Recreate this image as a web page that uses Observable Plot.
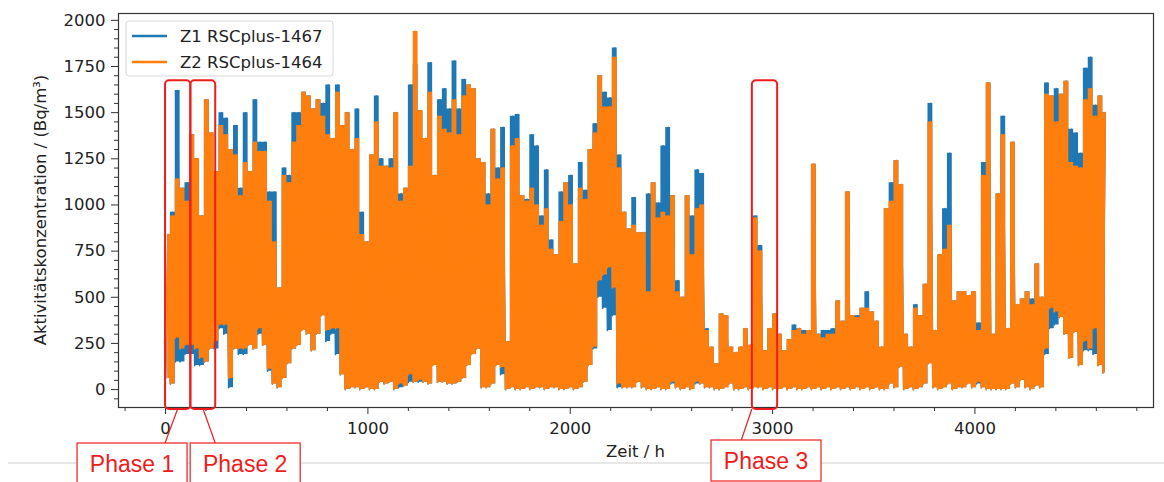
<!DOCTYPE html>
<html><head><meta charset="utf-8">
<script src="https://cdn.jsdelivr.net/npm/d3@7"></script>
<script src="https://cdn.jsdelivr.net/npm/@observablehq/plot@0.6"></script>
<style>
html,body{margin:0;padding:0;background:#fff;}
#chart{position:relative;width:1164px;height:482px;overflow:hidden;background:#fff;}
</style></head><body><div id="chart"></div>
<script>
// Daily maxima / minima (Bq/m³), one value per day (24 h)
const z1Max = [840,960,1620,1090,1120,1380,1250,940,1570,1390,
1180,1500,1470,1300,1430,1090,1500,1180,1570,1340,
1340,1070,1070,550,1200,1160,1500,1500,1610,1590,
1520,1570,1550,1650,1360,1650,1430,1500,1300,1520,
960,800,1270,1590,1250,1210,1250,1500,1060,1090,
1650,1760,1510,1360,1770,1160,1570,1630,1520,1780,
1520,1680,1650,1630,1250,1230,1060,1410,1200,1420,
260,1480,1490,1050,1030,1380,1320,940,1190,810,
730,1070,1120,1160,680,1230,1080,1300,1440,1700,
1610,1580,1850,1270,960,870,1040,850,850,1060,
1120,1010,1320,1420,1050,590,500,1050,940,1190,
1170,330,230,140,410,400,230,200,230,330,
240,940,780,210,330,410,300,210,270,350,
330,320,320,1220,300,320,320,330,480,370,
1070,400,400,440,530,420,370,230,980,1120,
1240,1110,300,230,460,400,570,1550,320,730,
980,1280,480,530,530,510,530,360,1230,1660,
300,1060,1480,330,1340,460,490,530,490,680,
500,1660,1590,1630,1600,1670,1410,1390,1280,1740,
1800,1540,1590,1500];
const z1Min = [60,30,150,150,190,190,130,130,150,220,
220,330,300,10,220,190,190,240,220,300,
240,100,30,10,60,140,220,240,320,300,
210,300,400,260,300,190,80,0,10,10,
0,10,0,0,40,30,40,0,10,20,
40,40,40,40,30,130,40,40,30,30,
40,60,130,190,220,10,10,30,130,80,
0,10,0,0,10,0,10,10,0,10,
10,0,0,10,0,10,40,130,220,500,
440,320,400,10,10,10,10,40,10,0,
0,10,0,0,30,10,0,10,0,30,
30,10,10,0,0,10,30,0,0,10,
0,10,10,0,10,0,0,10,0,10,
0,0,10,0,10,0,10,0,10,0,
10,0,10,0,10,0,10,0,0,30,
10,120,0,10,0,10,30,140,10,0,
10,30,0,10,10,30,10,30,10,0,
0,0,0,0,30,10,50,10,0,20,
10,190,330,350,390,300,170,310,130,210,
210,190,130,90];
const z2Max = [840,940,1140,1090,1020,1380,1250,940,1570,1390,
1180,1430,1380,1300,1270,1050,1230,1180,1340,1290,
1290,1020,800,550,1160,1120,1340,1430,1610,1590,
1520,1570,1480,1380,1360,1610,1430,1500,1300,1360,
840,800,1270,1450,1210,1210,1200,1500,1020,1090,
1210,1940,1510,1360,1610,1160,1480,1410,1390,1570,
1380,1590,1650,1630,1250,1230,1000,1410,1140,1200,
260,1320,1360,1050,1020,1090,1000,890,980,760,
730,910,1120,1000,680,1090,1030,1300,1390,1700,
1530,1530,1800,1200,960,870,890,850,850,530,
1120,930,960,940,1050,530,500,1050,730,980,
1000,320,230,140,410,400,230,200,230,330,
240,930,750,210,330,410,300,210,270,320,
330,300,320,1220,300,280,300,300,480,370,
1070,400,390,440,440,420,370,230,980,1020,
1240,1110,300,230,440,400,570,1450,320,730,
760,890,480,530,530,510,530,320,1160,1660,
300,1060,1380,330,1340,460,490,530,460,680,
500,1600,1590,1450,1600,1670,1230,1210,1200,1570,
1630,1480,1590,1500];
const z2Min = [60,30,280,220,240,240,220,170,150,220,
260,350,350,60,220,220,220,240,220,330,
240,110,30,10,60,140,220,240,320,300,
210,300,400,320,330,330,80,0,10,10,
0,10,0,0,40,30,40,0,30,20,
80,40,50,40,30,130,40,40,30,30,
40,60,130,190,220,10,10,30,130,120,
0,10,0,0,10,0,10,10,0,10,
10,0,0,10,0,10,40,130,230,590,
620,660,550,30,10,10,10,40,10,0,
0,10,0,0,40,10,0,10,0,40,
30,10,10,0,0,10,30,0,0,10,
0,10,10,0,10,0,0,10,0,10,
0,0,10,0,10,0,10,0,10,0,
10,0,10,0,10,0,10,0,0,30,
10,120,0,10,0,10,30,140,10,0,
10,30,0,10,10,30,10,40,10,0,
0,0,0,0,30,10,50,10,0,20,
10,220,440,420,390,300,170,310,130,260,
220,330,130,90];

const seriesNames = ["Z1 RSCplus-1467", "Z2 RSCplus-1464"];
const seriesColors = ["#1f77b4", "#ff7f0e"];
const xTicks = [0, 1000, 2000, 3000, 4000];
const xMinor = [-200,200,400,600,800,1200,1400,1600,1800,2200,2400,2600,2800,3200,3400,3600,3800,4200,4400,4600,4800];
const yTicks = [0, 250, 500, 750, 1000, 1250, 1500, 1750, 2000];
const yMinor = d3.range(-50, 2001, 50).filter(v => v % 250 !== 0);
const xLabel = "Zeit / h";
const yLabel = "Aktivitätskonzentration / (Bq/m³)";
// phase windows (hours) and annotation anchors (hours)
const phaseNames = ["Phase 1", "Phase 2", "Phase 3"];
const phaseStart = [0, 125, 2900];
const phaseEnd = [125, 248, 3025];
const phaseLabelAt = [-163, 396, 2970];
const phaseLinkFrom = [62, 188, 2900];
const phaseLinkTo = [0, 248, 2848];

// zigzag through the daily lows and highs
const rows = [];
for (let d = 0; d < z1Max.length; d++) {
  rows.push({t: 24 * d, z1: z1Min[d], z2: z2Min[d]});
  rows.push({t: 24 * d + 12, z1: z1Max[d], z2: z2Max[d]});
}
// daily band (the hourly trace fills the range between low and high)
const days = z1Max.map((_, d) => ({t: 24 * d + 12, z1lo: z1Min[d], z1hi: z1Max[d], z2lo: z2Min[d], z2hi: z2Max[d]}));
const phases = phaseNames.map((p, i) => ({label: p, start: phaseStart[i], end: phaseEnd[i], labelAt: phaseLabelAt[i], from: phaseLinkFrom[i], to: phaseLinkTo[i]}));

const W = 1164, H = 482;
const fmt = d => String(d);
const plot = Plot.plot({
  width: W, height: H,
  marginLeft: 118, marginRight: 11, marginTop: 13, marginBottom: 75,
  style: {fontFamily: "DejaVu Sans", fontSize: "16.5px", color: "#222", background: "white", overflow: "visible"},
  x: {domain: [-232.5, 4882.5]},
  y: {domain: [-97, 2037]},
  marks: [
    Plot.areaY(days, {x: "t", y1: "z1lo", y2: "z1hi", fill: seriesColors[0], curve: "step"}),
    Plot.line(rows, {x: "t", y: "z1", stroke: seriesColors[0], strokeWidth: 1.6}),
    Plot.areaY(days, {x: "t", y1: "z2lo", y2: "z2hi", fill: seriesColors[1], curve: "step"}),
    Plot.line(rows, {x: "t", y: "z2", stroke: seriesColors[1], strokeWidth: 1.6}),
    Plot.frame({stroke: "#333", strokeWidth: 1.2}),
    Plot.axisX(xTicks, {anchor: "bottom", tickSize: 7, tickPadding: 8, tickFormat: fmt, label: null, stroke: "#333"}),
    Plot.axisX(xMinor, {anchor: "bottom", tickSize: 4, tickFormat: () => "", label: null, stroke: "#333"}),
    Plot.axisY(yTicks, {anchor: "left", tickSize: 7, tickPadding: 6, tickFormat: fmt, label: null, stroke: "#333"}),
    Plot.axisY(yMinor, {anchor: "left", tickSize: 4, tickFormat: () => "", label: null, stroke: "#333"}),
    Plot.rect(phases, {x1: "start", x2: "end", y1: -108, y2: 1673, fill: "none", stroke: "#f01c1c", strokeWidth: 2, rx: 4, clip: false})
  ]
});
document.getElementById("chart").appendChild(plot);

const svg = d3.select(plot);
const xs = plot.scale("x");
const px = h => xs.apply(h);

// axis titles
svg.append("text").attr("x", 635.5).attr("y", 457).attr("text-anchor", "middle")
  .attr("font-family", "DejaVu Sans").attr("font-size", "16.5px").attr("fill", "#222").text(xLabel);
svg.append("text").attr("transform", "translate(46,210) rotate(-90)").attr("text-anchor", "middle")
  .attr("font-family", "DejaVu Sans").attr("font-size", "16.5px").attr("fill", "#222").text(yLabel);

// legend
const lg = svg.append("g");
lg.append("rect").attr("x", 126).attr("y", 21).attr("width", 207).attr("height", 55).attr("rx", 3)
  .attr("fill", "white").attr("fill-opacity", 0.85).attr("stroke", "#d6d6d6");
seriesNames.forEach((n, i) => {
  const yy = 36 + i * 26;
  lg.append("line").attr("x1", 132).attr("x2", 167).attr("y1", yy).attr("y2", yy)
    .attr("stroke", seriesColors[i]).attr("stroke-width", 2.5);
  lg.append("text").attr("x", 180).attr("y", yy).attr("dy", "0.35em").attr("text-anchor", "start")
    .attr("font-family", "DejaVu Sans").attr("font-size", "16.5px").attr("fill", "#222").text(n);
});

// page rule and phase labels
svg.append("line").attr("x1", 8).attr("x2", W).attr("y1", 463).attr("y2", 463).attr("stroke", "#cfcfcf");
phases.forEach((p, i) => {
  const top = i === 2 ? 440 : 443;
  svg.append("line").attr("x1", px(p.from)).attr("y1", 409).attr("x2", px(p.to)).attr("y2", top)
    .attr("stroke", "#f01c1c").attr("stroke-width", 1.2);
  const cx = px(p.labelAt);
  svg.append("rect").attr("x", cx - 55).attr("y", top).attr("width", 110).attr("height", 41)
    .attr("fill", "white").attr("stroke", "#f01c1c").attr("stroke-width", 1.2);
  svg.append("text").attr("x", cx).attr("y", top + 29).attr("text-anchor", "middle")
    .attr("font-family", "Liberation Sans, Arial, sans-serif").attr("font-size", "23px").attr("fill", "#f01c1c").text(p.label);
});
</script></body></html>
